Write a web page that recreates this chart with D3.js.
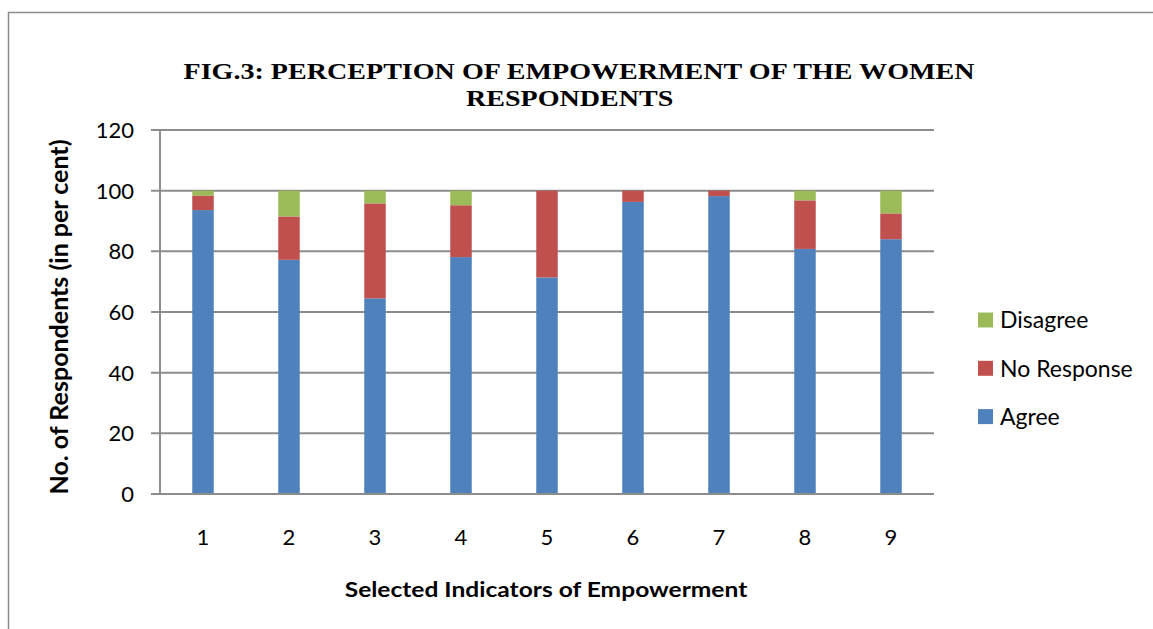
<!DOCTYPE html>
<html>
<head>
<meta charset="utf-8">
<script src="https://cdn.jsdelivr.net/npm/d3@7"></script>
<style>
  body { margin: 0; background: #fff; }
  svg { display: block; }
</style>
</head>
<body>
<svg id="chart" width="1153" height="629"></svg>
<script>
// Indicators 1..9 and the three response shares (per cent)
const indicators = ['1', '2', '3', '4', '5', '6', '7', '8', '9'];
const agree      = [93.6, 77.2, 64.5, 78.1, 71.4, 96.3, 98.2, 80.8, 84.0];
const noResponse = [4.8, 14.3, 31.3, 17.1, 28.6, 3.7, 1.8, 16.0, 8.5];
const disagree   = [1.6, 8.5, 4.2, 4.8, 0, 0, 0, 3.2, 7.5];
const yTicks = [0, 20, 40, 60, 80, 100, 120];

const seriesNames = ['Agree', 'No Response', 'Disagree'];
const colors = { 'Agree': '#4F81BD', 'No Response': '#C0504D', 'Disagree': '#9BBB59' };

const svg = d3.select('#chart');

// outer frame
svg.append('rect')
    .attr('x', 8.5).attr('y', 12.5)
    .attr('width', 1160).attr('height', 640)
    .attr('fill', 'none')
    .attr('stroke', '#8c8c8c')
    .attr('stroke-width', 1.5);

const plot = { left: 160, right: 934, top: 130, bottom: 494 };

const x = d3.scaleBand()
    .domain(indicators)
    .range([plot.left, plot.right])
    .paddingInner(0.75)
    .paddingOuter(0.375);

const y = d3.scaleLinear()
    .domain([0, 120])
    .range([plot.bottom, plot.top]);

// table for the stack
const table = indicators.map((k, i) => ({
    key: k,
    'Agree': agree[i],
    'No Response': noResponse[i],
    'Disagree': disagree[i]
}));
const stacked = d3.stack().keys(seriesNames)(table);

// gridlines (with outward ticks)
svg.append('g')
    .selectAll('line')
    .data(yTicks.filter(t => t > 0))
    .join('line')
    .attr('x1', plot.left - 9)
    .attr('x2', plot.right)
    .attr('y1', d => y(d))
    .attr('y2', d => y(d))
    .attr('stroke', '#8c8c8c')
    .attr('stroke-width', 2);

// bars
svg.append('g')
    .selectAll('g')
    .data(stacked)
    .join('g')
    .attr('fill', d => colors[d.key])
    .selectAll('rect')
    .data(d => d)
    .join('rect')
    .attr('x', d => x(d.data.key))
    .attr('width', x.bandwidth())
    .attr('y', d => y(d[1]))
    .attr('height', d => y(d[0]) - y(d[1]));

// axes lines
svg.append('line')
    .attr('x1', plot.left).attr('x2', plot.left)
    .attr('y1', plot.top).attr('y2', plot.bottom)
    .attr('stroke', '#8c8c8c').attr('stroke-width', 2);
svg.append('line')
    .attr('x1', plot.left - 9).attr('x2', plot.right)
    .attr('y1', plot.bottom).attr('y2', plot.bottom)
    .attr('stroke', '#8c8c8c').attr('stroke-width', 2);

const font = 'Lato, "Open Sans", sans-serif';

// y tick labels
svg.append('g')
    .selectAll('text')
    .data(yTicks)
    .join('text')
    .attr('x', plot.left - 26)
    .attr('y', d => y(d))
    .attr('dy', '0.36em')
    .attr('text-anchor', 'end')
    .attr('font-family', font)
    .attr('font-size', 22)
    .attr('fill', '#000')
    .text(d => d);

// x tick labels
svg.append('g')
    .selectAll('text')
    .data(indicators)
    .join('text')
    .attr('x', d => x(d) + x.bandwidth() / 2)
    .attr('y', 545)
    .attr('text-anchor', 'middle')
    .attr('font-family', font)
    .attr('font-size', 22)
    .attr('fill', '#000')
    .text(d => d);

// title (slightly stretched horizontally, like the original)
const title = svg.append('g')
    .attr('transform', 'translate(579,0) scale(1.17,1)')
    .append('text')
    .attr('text-anchor', 'middle')
    .attr('font-family', '"Liberation Serif", "Times New Roman", serif')
    .attr('font-weight', 'bold')
    .attr('font-size', 24)
    .attr('fill', '#000');
title.append('tspan').attr('x', 0).attr('y', 79)
    .text('FIG.3: PERCEPTION OF EMPOWERMENT OF THE WOMEN');
title.append('tspan').attr('x', -8).attr('y', 106)
    .text('RESPONDENTS');

// axis titles
svg.append('text')
    .attr('transform', `translate(68,${(plot.top + plot.bottom) / 2 + 5}) rotate(-90)`)
    .attr('text-anchor', 'middle')
    .attr('font-family', font)
    .attr('font-weight', 'bold')
    .attr('font-size', 25)
    .attr('fill', '#000')
    .text('No. of Respondents (in per cent)');

svg.append('g')
    .attr('transform', 'translate(546,0) scale(1.17,1)')
    .append('text')
    .attr('x', 0)
    .attr('y', 597)
    .attr('text-anchor', 'middle')
    .attr('font-family', font)
    .attr('font-weight', 'bold')
    .attr('font-size', 21)
    .attr('fill', '#000')
    .text('Selected Indicators of Empowerment');

// legend (top to bottom: Disagree, No Response, Agree)
const legend = svg.append('g')
    .selectAll('g')
    .data(seriesNames.slice().reverse())
    .join('g')
    .attr('transform', (d, i) => `translate(978,${320 + i * 48.3})`);
legend.append('rect')
    .attr('x', 0).attr('y', -7.5)
    .attr('width', 15).attr('height', 15)
    .attr('fill', d => colors[d]);
legend.append('text')
    .attr('x', 22)
    .attr('y', 0)
    .attr('dy', '0.36em')
    .attr('font-family', font)
    .attr('font-size', 23)
    .attr('fill', '#000')
    .text(d => d);
</script>
</body>
</html>
